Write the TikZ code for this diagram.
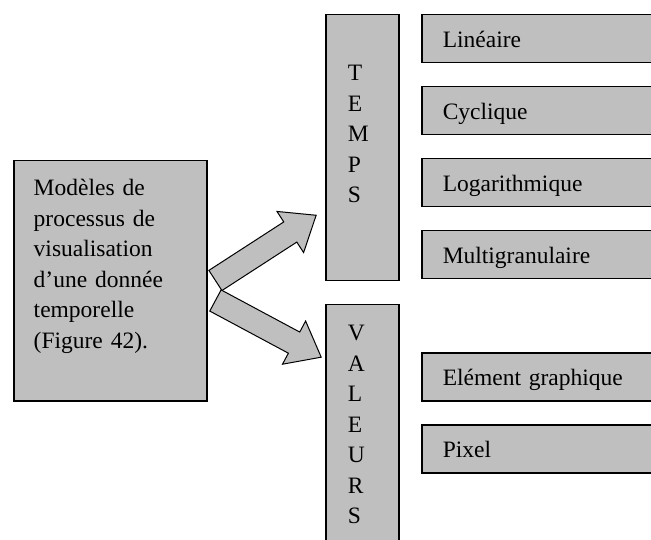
\documentclass[tikz,border=0pt]{standalone}
\usepackage{fontspec}
\setmainfont{Liberation Serif}
\usetikzlibrary{shapes.arrows,calc}
\begin{document}
\begin{tikzpicture}[x=1pt,y=-1pt,font=\fontsize{23.5}{30.5}\selectfont,
  box/.style={draw,line width=1.5pt,fill=gray!50,inner ysep=0pt,align=left,anchor=north west},
  rowbox/.style={box,inner xsep=21pt,text width=260pt,text height=33pt,text depth=15pt},
  colbox/.style={box,inner xsep=22pt,text width=29pt,text depth=#1},
  bigarrow/.style={single arrow,draw,line width=1pt,fill=gray!50,inner sep=0pt,
    text height=23pt,text depth=0pt,minimum height=120pt,
    single arrow head extend=12.5pt,single arrow tip angle=77,anchor=tail,sloped}]
  \useasboundingbox (0,0) rectangle (651,540);
  \clip (0,0) rectangle (651,540);
  \node[box,inner xsep=20pt,text width=153pt,text height=35pt,text depth=205pt] (model) at (13,160)
    {Modèles de\\processus de\\visualisation\\d’une donnée\\temporelle\\(Figure 42).};
  \node[colbox=200pt,text height=66pt] (temps) at (325,14) {T\\E\\M\\P\\S};
  \node[colbox=260pt,text height=36pt] (valeurs) at (325,304) {V\\A\\L\\E\\U\\R\\S};
  \foreach \name/\y/\lab in {lin/14/Linéaire,cyc/86/Cyclique,log/158/Logarithmique,
      multi/230/Multigranulaire,elem/352/Elément graphique,pix/424/Pixel}
    \node[rowbox] (\name) at (421,\y) {\lab};
  % block arrows
  \coordinate (t1) at ($(model.east)+(7.5,0)$);
  \coordinate (h1) at ($(temps.north west)+(-10,202)$);
  \coordinate (t2) at ($(model.east)+(7.5,19.5)$);
  \coordinate (h2) at ($(valeurs.north west)+(-6,52)$);
  \path (t1) -- (h1) node[pos=0,bigarrow] (totemps) {};
  \path (t2) -- (h2) node[pos=0,bigarrow] (tovaleurs) {};
\end{tikzpicture}
\end{document}
